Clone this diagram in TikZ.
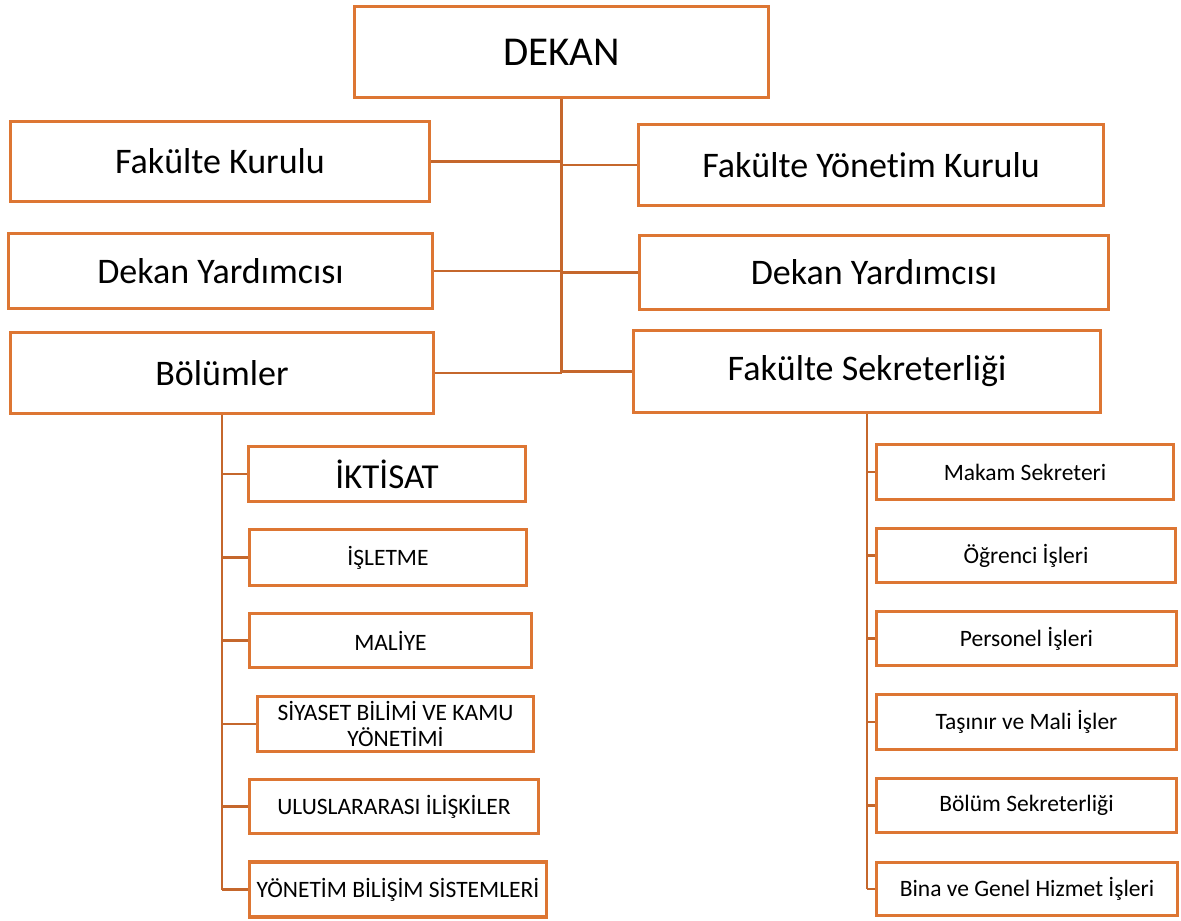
\documentclass[tikz,border=0pt]{standalone}
\usepackage{fontspec}
\setmainfont{Carlito}[RawFeature={-liga;-clig;-dlig;-calt}]
\definecolor{boxc}{HTML}{DD7633}
\definecolor{linec}{HTML}{C5672C}
\begin{document}
\begin{tikzpicture}[x=1pt,y=-1pt,
 box/.style={draw=boxc,line width=3.6pt,fill=white,inner sep=0pt,align=center,text=black},
 hugefont/.style={font=\fontsize{41}{48}\selectfont},
 bigfont/.style={font=\fontsize{36}{42}\selectfont},
 midfont/.style={font=\fontsize{35}{40}\selectfont},
 smallfont/.style={font=\fontsize{23.5}{26}\selectfont},
 conn/.style={draw=linec,line width=2.5pt}]
\useasboundingbox (0,0) rectangle (1181,921);
% top level
\node[box,hugefont,minimum width=414pt,minimum height=91pt] (dekan) at (561.5,52) {DEKAN};
\node[box,bigfont,minimum width=419pt,minimum height=80pt] (fk) at (220,161.5) {Fakülte Kurulu};
\node[box,bigfont,minimum width=465pt,minimum height=81pt] (fyk) at (871,165) {Fakülte Yönetim Kurulu};
\node[box,bigfont,minimum width=424pt,minimum height=75pt] (dyl) at (220.5,271) {Dekan Yardımcısı};
\node[box,bigfont,minimum width=469pt,minimum height=74pt] (dyr) at (874,272.5) {Dekan Yardımcısı};
\node[box,bigfont,minimum width=423pt,minimum height=81pt] (bol) at (222,373) {Bölümler};
\node[box,bigfont,minimum width=467pt,minimum height=82pt] (sek) at (867,371.5) {Fakülte Sekreterliği};
% departments
\node[box,midfont,minimum width=277pt,minimum height=55pt] (ikt) at (387,474) {İKTİSAT};
\node[box,smallfont,minimum width=277pt,minimum height=56pt] (isl) at (388,557.5) {İŞLETME};
\node[box,smallfont,minimum width=282pt,minimum height=54pt] (mal) at (390.5,640.5) {MALİYE};
\node[box,smallfont,minimum width=276pt,minimum height=55pt] (siy) at (395.5,724) {SİYASET BİLİMİ VE KAMU\\YÖNETİMİ};
\node[box,smallfont,minimum width=289pt,minimum height=54pt] (ulu) at (394,806.5) {ULUSLARARASI İLİŞKİLER};
\node[box,smallfont,minimum width=297pt,minimum height=55pt] (ybs) at (398,889.5) {YÖNETİM BİLİŞİM SİSTEMLERİ};
% secretariat units
\node[box,smallfont,minimum width=297pt,minimum height=55pt] (mak) at (1025,472) {Makam Sekreteri};
\node[box,smallfont,minimum width=299pt,minimum height=54pt] (ogr) at (1026,555.5) {Öğrenci İşleri};
\node[box,smallfont,minimum width=300pt,minimum height=54pt] (per) at (1026.5,638.5) {Personel İşleri};
\node[box,smallfont,minimum width=300pt,minimum height=55pt] (tas) at (1026.5,722) {Taşınır ve Mali İşler};
\node[box,smallfont,minimum width=300pt,minimum height=54pt] (bsk) at (1026.5,805.5) {Bölüm Sekreterliği};
\node[box,smallfont,minimum width=301pt,minimum height=53pt] (bina) at (1027,889) {Bina ve Genel Hizmet İşleri};
% trunk
\draw[conn] (dekan.south) -- (dekan.south |- bol.east);
\draw[conn] (fk.east) -- (fk.east -| dekan.south);
\draw[conn] (fyk.west) -- (fyk.west -| dekan.south);
\draw[conn] (dyl.east) -- (dyl.east -| dekan.south);
\draw[conn] (dyr.west) -- (dyr.west -| dekan.south);
\draw[conn] (bol.east) -- (bol.east -| dekan.south);
\draw[conn] (sek.west) -- (sek.west -| dekan.south);
% left bus
\draw[conn] (bol.south) -- (bol.south |- ybs.west);
\foreach \n in {ikt,isl,mal,siy,ulu,ybs}
  \draw[conn] (bol.south |- \n.west) -- (\n.west);
% right bus
\draw[conn] (sek.south) -- (sek.south |- bina.west);
\foreach \n in {mak,ogr,per,tas,bsk,bina}
  \draw[conn] (sek.south |- \n.west) -- (\n.west);
\end{tikzpicture}
\end{document}
